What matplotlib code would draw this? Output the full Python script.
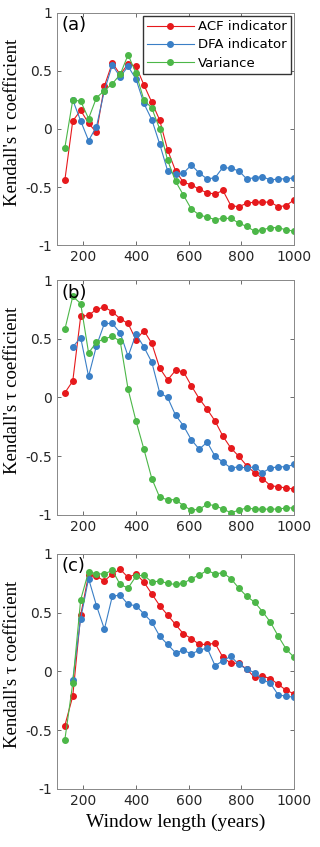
import matplotlib.pyplot as plt
import numpy as np

# window lengths (years)
win = np.arange(130, 1001, 30)
nan = np.nan

# panel (a)
acf_a = [-0.44, 0.07, 0.16, 0.05, -0.03, 0.37, 0.57, 0.47, 0.56, 0.54, 0.38, 0.23, 0.076, -0.18, -0.36,
         -0.46, -0.48, -0.52, -0.55, -0.56, -0.53, -0.66, -0.67, -0.64, -0.63, -0.63, -0.63, -0.67, -0.66, -0.61]
dfa_a = [nan, 0.25, 0.07, -0.10, 0.02, 0.33, 0.55, 0.45, 0.54, 0.43, 0.22, 0.08, -0.13, -0.36, -0.39,
         -0.38, -0.31, -0.38, -0.43, -0.42, -0.33, -0.34, -0.36, -0.43, -0.42, -0.41, -0.44, -0.43, -0.43, -0.42]
var_a = [-0.16, 0.25, 0.24, 0.09, 0.27, 0.33, 0.39, 0.47, 0.64, 0.48, 0.25, 0.18, 0.0, -0.27, -0.45,
         -0.57, -0.69, -0.74, -0.76, -0.78, -0.77, -0.77, -0.81, -0.84, -0.88, -0.87, -0.85, -0.85, -0.87, -0.88]

# panel (b)
acf_b = [0.04, 0.14, 0.69, 0.70, 0.75, 0.77, 0.73, 0.67, 0.63, 0.49, 0.57, 0.46, 0.25, 0.15, 0.23,
         0.22, 0.10, -0.01, -0.10, -0.20, -0.33, -0.43, -0.50, -0.58, -0.64, -0.69, -0.75, -0.76, -0.77, -0.78]
dfa_b = [nan, 0.43, 0.51, 0.18, 0.44, 0.63, 0.63, 0.55, 0.35, 0.54, 0.43, 0.30, 0.04, 0.0, -0.15,
         -0.24, -0.36, -0.44, -0.38, -0.50, -0.55, -0.60, -0.59, -0.60, -0.59, -0.64, -0.60, -0.59, -0.59, -0.57]
var_b = [0.58, 0.86, 0.80, 0.38, 0.47, 0.50, 0.52, 0.48, 0.07, -0.20, -0.44, -0.69, -0.85, -0.87, -0.87,
         -0.92, -0.96, -0.95, -0.91, -0.92, -0.95, -0.98, -0.96, -0.94, -0.95, -0.95, -0.95, -0.95, -0.94, -0.94]

# panel (c)
acf_c = [-0.46, -0.21, 0.48, 0.82, 0.81, 0.77, 0.83, 0.87, 0.80, 0.83, 0.76, 0.66, 0.56, 0.48, 0.40,
         0.32, 0.28, 0.23, 0.23, 0.24, 0.12, 0.07, 0.07, 0.02, -0.05, -0.04, -0.06, -0.11, -0.16, -0.19]
dfa_c = [nan, -0.07, 0.45, 0.79, 0.56, 0.36, 0.64, 0.65, 0.57, 0.56, 0.49, 0.42, 0.30, 0.23, 0.16,
         0.18, 0.15, 0.18, 0.20, 0.05, 0.09, 0.13, 0.06, 0.02, -0.01, -0.07, -0.10, -0.20, -0.21, -0.22]
var_c = [-0.58, -0.10, 0.61, 0.85, 0.83, 0.83, 0.86, 0.74, 0.71, 0.81, 0.82, 0.76, 0.77, 0.75, 0.74,
         0.75, 0.79, 0.82, 0.86, 0.83, 0.84, 0.79, 0.71, 0.64, 0.59, 0.51, 0.42, 0.30, 0.19, 0.12]

labels = ['ACF indicator', 'DFA indicator', 'Variance']
colors = ['#e6191c', '#3a7fc6', '#4cb748']
panels = ['(a)', '(b)', '(c)']
data = [(acf_a, dfa_a, var_a), (acf_b, dfa_b, var_b), (acf_c, dfa_c, var_c)]

fig = plt.figure(figsize=(3.2, 8.47), dpi=100)
boxes = [(0.178, 0.7107, 0.741, 0.274),
         (0.178, 0.392, 0.741, 0.2774),
         (0.178, 0.0685, 0.741, 0.2775)]

for i, (box, series) in enumerate(zip(boxes, data)):
    ax = fig.add_axes(box)
    for y, c, lab in zip(series, colors, labels):
        ax.plot(win, y, '-o', color=c, lw=0.8, ms=4.0, label=lab)
    ax.set_xlim(100, 1000)
    ax.set_ylim(-1, 1)
    ax.set_xticks([200, 400, 600, 800, 1000])
    ax.set_yticks([-1, -0.5, 0, 0.5, 1])
    ax.set_yticklabels(['-1', '-0.5', '0', '0.5', '1'])
    ax.tick_params(direction='in', top=True, right=True, labelsize=10, length=3,
                   color='#555555', width=0.6, labelcolor='#262626')
    for s in ax.spines.values():
        s.set_color('#888888')
        s.set_linewidth(0.7)
    ax.text(0.02, 0.985, panels[i], transform=ax.transAxes, fontsize=13, va='top', ha='left')
    ax.set_ylabel("Kendall's \u03c4 coefficient", family='Liberation Serif', fontsize=13.5)
    ax.yaxis.set_label_coords(-0.15, 0.53)
    if i == 0:
        ax.legend(loc='upper right', fontsize=9.5, fancybox=False, edgecolor='#333333',
                  framealpha=1, borderpad=0.3, labelspacing=0.4, handlelength=3.6,
                  handletextpad=0.3, borderaxespad=0.25)
    if i == 2:
        ax.set_xlabel('Window length (years)', family='Liberation Serif', fontsize=14, labelpad=4)

fig.savefig('out.png', dpi=100)
